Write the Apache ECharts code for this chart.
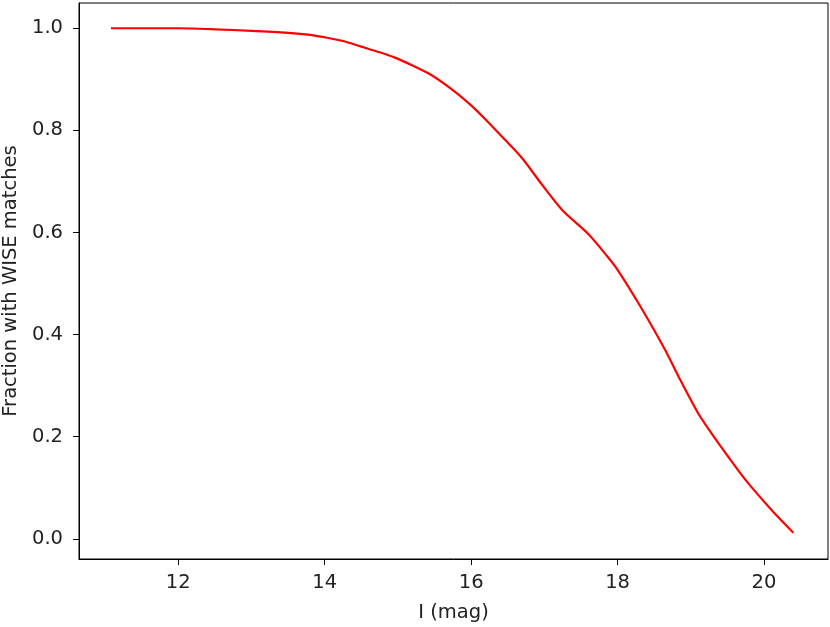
<!DOCTYPE html>
<html>
<head>
<meta charset="utf-8">
<script src="https://cdn.jsdelivr.net/npm/echarts@6/dist/echarts.min.js"></script>
<style>html,body{margin:0;padding:0;background:#fff;}#c{width:830px;height:627px;}</style>
</head>
<body>
<div id="c"></div>
<script>
const magnitudes = [11.08, 11.5, 12.0, 12.5, 13.0, 13.5, 13.8, 14.05, 14.25, 14.5, 14.75, 14.95, 15.2, 15.45, 15.75, 16.0, 16.2, 16.4, 16.7, 16.95, 17.25, 17.6, 17.85, 18.0, 18.3, 18.65, 18.85, 19.1, 19.3, 19.5, 19.75, 20.1, 20.4];
const fractions = [1.000, 1.000, 1.000, 0.998, 0.995, 0.991, 0.987, 0.981, 0.975, 0.964, 0.953, 0.943, 0.927, 0.909, 0.879, 0.849, 0.821, 0.791, 0.745, 0.697, 0.643, 0.597, 0.555, 0.527, 0.458, 0.370, 0.313, 0.246, 0.203, 0.163, 0.115, 0.057, 0.012];
const xTicks = [12, 14, 16, 18, 20];
const yTicks = [0.0, 0.2, 0.4, 0.6, 0.8, 1.0];

const chart = echarts.init(document.getElementById('c'), null, {renderer: 'canvas'});
const font = 'DejaVu Sans';
const fs = 19.5;
chart.setOption({
  animation: false,
  backgroundColor: '#fff',
  grid: {left: 79, right: 2, top: 3, bottom: 68, containLabel: false, outerBoundsMode: 'none', show: true, borderColor: '#000', borderWidth: 1, backgroundColor: 'transparent'},
  xAxis: {
    type: 'value', min: 10.644, max: 20.874,
    name: 'I (mag)', nameLocation: 'middle', nameGap: 44,
    nameTextStyle: {fontFamily: font, fontSize: fs, color: '#222'},
    axisLine: {show: true, onZero: false, lineStyle: {color: '#000', width: 1}},
    axisTick: {show: true, length: 6, lineStyle: {color: '#000'}, customValues: xTicks},
    axisLabel: {fontFamily: font, fontSize: fs, color: '#222', margin: 14, customValues: xTicks, formatter: v => String(v)},
    splitLine: {show: false}
  },
  yAxis: {
    type: 'value', min: -0.0395, max: 1.0495,
    name: 'Fraction with WISE matches', nameLocation: 'middle', nameGap: 58, nameRotate: 90,
    nameTextStyle: {fontFamily: font, fontSize: fs, color: '#222'},
    axisLine: {show: true, onZero: false, lineStyle: {color: '#000', width: 1}},
    axisTick: {show: true, length: 6, lineStyle: {color: '#000'}, customValues: yTicks},
    axisLabel: {fontFamily: font, fontSize: fs, color: '#222', margin: 16, customValues: yTicks, formatter: v => v.toFixed(1)},
    splitLine: {show: false}
  },
  series: [{
    type: 'line',
    data: magnitudes.map((m, i) => [m, fractions[i]]),
    showSymbol: false,
    smooth: 0.25,
    lineStyle: {color: '#ff0000', width: 2.2},
    itemStyle: {color: '#ff0000'}
  }]
});
</script>
</body>
</html>
